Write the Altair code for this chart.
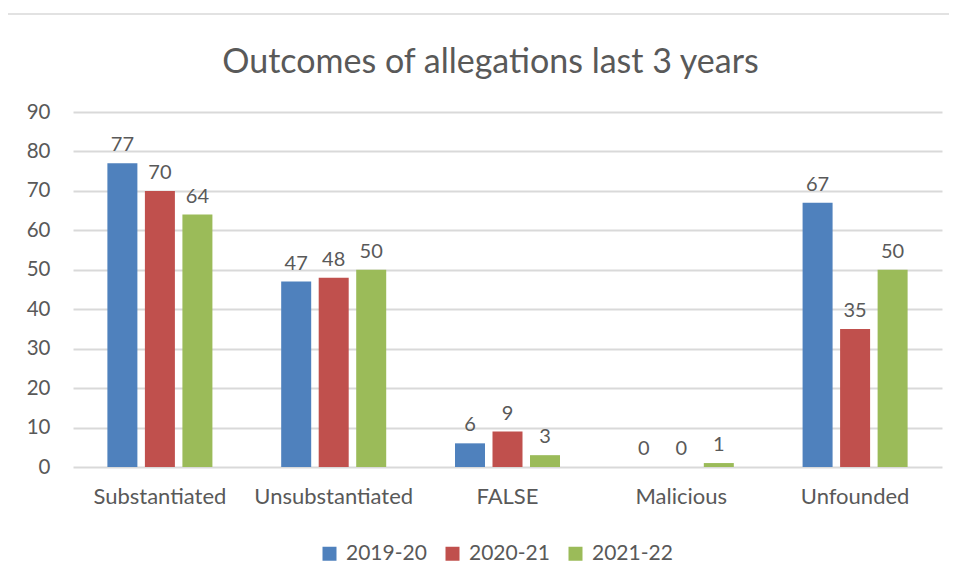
import altair as alt
import pandas as pd

categories = ["Substantiated", "Unsubstantiated", "FALSE", "Malicious", "Unfounded"]
series = ["2019-20", "2020-21", "2021-22"]
values_2019 = [77, 47, 6, 0, 67]
values_2020 = [70, 48, 9, 0, 35]
values_2021 = [64, 50, 3, 1, 50]
colors = ["#4f81bd", "#c0504d", "#9bbb59"]

rows = []
for s, vals in zip(series, [values_2019, values_2020, values_2021]):
    for c, v in zip(categories, vals):
        rows.append({"category": c, "year": s, "value": v})
df = pd.DataFrame(rows)

FONT = "Lato"
TXT = "#595959"

x_enc = alt.X("category:N", sort=categories,
              scale=alt.Scale(paddingInner=0.4, paddingOuter=0.2),
              axis=alt.Axis(title=None, labelAngle=0, labelFontSize=22, labelColor=TXT,
                            labelFont=FONT, labelPadding=19, ticks=False, domain=False, grid=False))
xo_enc = alt.XOffset("year:N", sort=series, scale=alt.Scale(paddingInner=0.22, paddingOuter=0))
y_enc = alt.Y("value:Q", scale=alt.Scale(domain=[0, 90], nice=False),
              axis=alt.Axis(title=None, values=list(range(0, 91, 10)), labelFontSize=20.5,
                            labelColor=TXT, labelFont=FONT, labelPadding=23, ticks=False,
                            labelOverlap=False, labelBound=False,
                            domain=False, gridColor="#d9d9d9", gridWidth=2))
color_enc = alt.Color("year:N", sort=series, scale=alt.Scale(domain=series, range=colors),
                      legend=alt.Legend(title=None, orient="none", direction="horizontal",
                                        legendX=246, legendY=431, symbolType="square",
                                        symbolSize=196, symbolStrokeWidth=0, labelFontSize=21,
                                        labelColor=TXT, labelFont=FONT, columnPadding=15,
                                        labelOffset=6))

bars = alt.Chart(df).mark_bar(size=30).encode(x=x_enc, xOffset=xo_enc, y=y_enc, color=color_enc)
labels = alt.Chart(df).mark_text(baseline="bottom", dy=-8, fontSize=20, font=FONT, color=TXT).encode(
    x=x_enc, xOffset=xo_enc, y=y_enc, text="value:Q")

border = alt.Chart(pd.DataFrame({"a": [0]})).mark_rect(
    fill="transparent", fillOpacity=0, stroke="#d9d9d9", strokeWidth=1.5).encode(
    x=alt.value(-66), x2=alt.value(900), y=alt.value(-98), y2=alt.value(480))

chart = alt.layer(border, bars, labels).properties(
    width=869, height=355,
    title=alt.TitleParams("Outcomes of allegations last 3 years", fontSize=34, font=FONT,
                          color=TXT, fontWeight="normal", anchor="middle", dx=-17, offset=-67),
    autosize=alt.AutoSizeParams(type="none"),
    padding={"left": 65, "top": 104, "right": 7, "bottom": 106},
).configure(background="white", view=alt.ViewConfig(strokeWidth=0, stroke="transparent"))

chart.save("out.html", embed_options={"renderer": "svg", "actions": False})
